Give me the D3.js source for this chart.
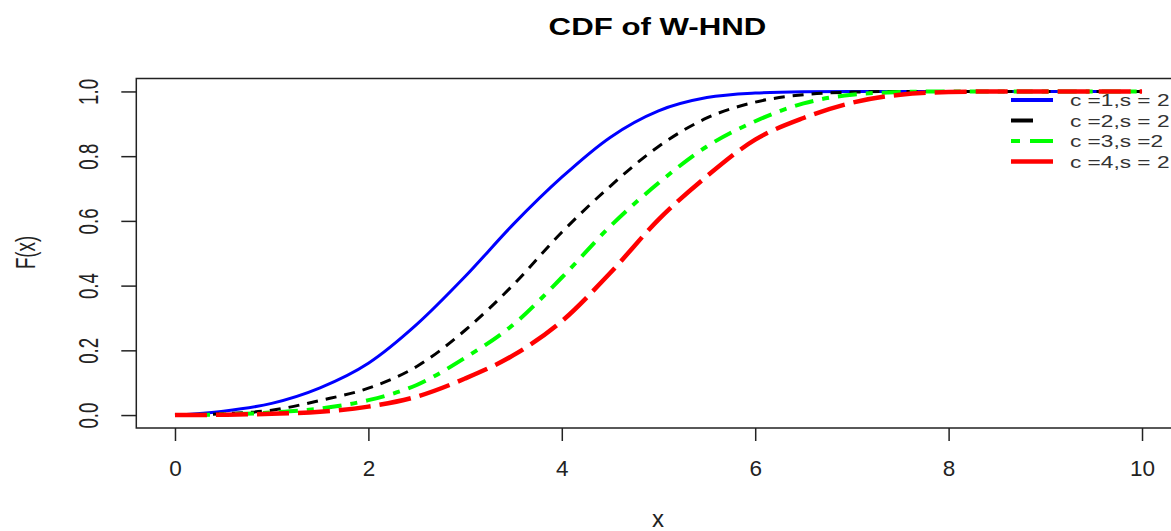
<!DOCTYPE html>
<html>
<head>
<meta charset="utf-8">
<script src="https://cdn.jsdelivr.net/npm/d3@7"></script>
<style>
  html, body { margin: 0; padding: 0; background: #fff; }
  svg { display: block; font-family: "Liberation Sans", Arial, sans-serif; }
</style>
</head>
<body>
<svg id="chart" width="1171" height="531"></svg>
<script>
// ---- data ----
const xs = [0, 0.5, 1, 1.5, 2, 2.5, 3, 3.5, 4, 4.5, 5, 5.5, 6, 6.5, 7, 7.5, 8, 8.5, 9, 9.5, 10];
const cdfC1 = [0, 0.012, 0.036, 0.084, 0.16, 0.28, 0.428, 0.59, 0.735, 0.858, 0.94, 0.981, 0.995, 0.999, 1, 1, 1, 1, 1, 1, 1];
const cdfC2 = [0, 0.004, 0.015, 0.045, 0.083, 0.15, 0.262, 0.403, 0.565, 0.707, 0.83, 0.918, 0.967, 0.99, 0.998, 1, 1, 1, 1, 1, 1];
const cdfC3 = [0, 0.002, 0.008, 0.02, 0.046, 0.093, 0.177, 0.28, 0.425, 0.583, 0.717, 0.83, 0.908, 0.963, 0.99, 0.998, 1, 1, 1, 1, 1];
const cdfC4 = [0, 0.001, 0.004, 0.01, 0.026, 0.057, 0.113, 0.185, 0.29, 0.439, 0.604, 0.738, 0.851, 0.918, 0.965, 0.99, 0.998, 1, 1, 1, 1];
const seriesNames = ["c =1,s = 2", "c =2,s = 2", "c =3,s =2", "c =4,s = 2"];
const xTicks = [0, 2, 4, 6, 8, 10];
const yTicks = [0, 0.2, 0.4, 0.6, 0.8, 1.0];
const title = "CDF of W-HND";
const xLabel = "x";
const yLabel = "F(x)";

// ---- styling ----
const styles = [
  { color: "#0000ff", width: 3,   dash: null,          legDash: null,          legWidth: 4 },
  { color: "#000000", width: 3,   dash: "11,8",        legDash: "22,40",       legWidth: 4 },
  { color: "#00ff00", width: 4,   dash: "7,9,19,9",    legDash: "9,10,24,10",  legWidth: 4 },
  { color: "#ff0000", width: 4.5, dash: "32,9",        legDash: null,          legWidth: 4.5 }
];
const seriesValues = [cdfC1, cdfC2, cdfC3, cdfC4];

const svg = d3.select("#chart");
const x = d3.scaleLinear().domain([-0.4, 10.4]).range([136.3, 1180.7]);
const y = d3.scaleLinear().domain([-0.04, 1.04]).range([428, 78.5]);

// plot box
svg.append("rect")
  .attr("x", x(-0.4)).attr("y", y(1.04))
  .attr("width", x(10.4) - x(-0.4)).attr("height", y(-0.04) - y(1.04))
  .attr("fill", "none").attr("stroke", "#222").attr("stroke-width", 1.5);

// x axis
const xAxis = d3.axisBottom(x).tickValues(xTicks).tickSize(13).tickPadding(0).tickFormat(d3.format("d"));
const gx = svg.append("g").attr("transform", `translate(0,${y(-0.04)})`).call(xAxis);
gx.select(".domain").remove();
gx.selectAll(".tick line").attr("stroke", "#222").attr("stroke-width", 1.5);
gx.selectAll(".tick text").attr("y", 47.7).attr("dy", null)
  .attr("font-size", 22.5).attr("fill", "#222")
  .attr("font-family", "Liberation Sans, Arial, sans-serif");

// y axis
const yAxis = d3.axisLeft(y).tickValues(yTicks).tickSize(15).tickFormat(d3.format(".1f"));
const gy = svg.append("g").attr("transform", `translate(${x(-0.4)},0)`).call(yAxis);
gy.select(".domain").remove();
gy.selectAll(".tick line").attr("stroke", "#222").attr("stroke-width", 1.5);
gy.selectAll(".tick text").remove();
gy.selectAll(".tick").append("text")
  .attr("transform", `translate(${98.3 - x(-0.4)},0) rotate(-90) scale(1,1.5)`)
  .attr("text-anchor", "middle")
  .attr("font-size", 18.7).attr("fill", "#222")
  .attr("font-family", "Liberation Sans, Arial, sans-serif")
  .text(d => d3.format(".1f")(d));

// curves
const line = d3.line().x(d => x(d[0])).y(d => y(d[1])).curve(d3.curveMonotoneX);
seriesValues.forEach((vals, i) => {
  const s = styles[i];
  svg.append("path")
    .datum(xs.map((xv, j) => [xv, vals[j]]))
    .attr("d", line)
    .attr("fill", "none")
    .attr("stroke", s.color)
    .attr("stroke-width", s.width)
    .attr("stroke-dasharray", s.dash)
    .attr("stroke-linejoin", "round");
});

// legend
const legY = [100, 120.5, 141, 161.5];
const leg = svg.append("g");
seriesNames.forEach((name, i) => {
  const s = styles[i];
  leg.append("line")
    .attr("x1", 1011).attr("x2", 1053)
    .attr("y1", legY[i]).attr("y2", legY[i])
    .attr("stroke", s.color).attr("stroke-width", s.legWidth)
    .attr("stroke-dasharray", s.legDash);
  leg.append("text")
    .attr("transform", `translate(1070,${legY[i] + 6}) scale(1.35,1)`)
    .attr("font-size", 16.8).attr("fill", "#333")
    .text(name);
});

// title
svg.append("text")
  .attr("transform", "translate(657.5,35) scale(1.34,1)")
  .attr("text-anchor", "middle")
  .attr("font-size", 23.3).attr("font-weight", "bold").attr("fill", "#000")
  .text(title);

// axis labels
svg.append("text")
  .attr("x", 658).attr("y", 526.5)
  .attr("text-anchor", "middle")
  .attr("font-size", 24).attr("fill", "#222")
  .text(xLabel);

svg.append("text")
  .attr("transform", "translate(35,252.5) rotate(-90) scale(1,1.5)")
  .attr("text-anchor", "middle")
  .attr("font-size", 18.7).attr("fill", "#222")
  .text(yLabel);
</script>
</body>
</html>
